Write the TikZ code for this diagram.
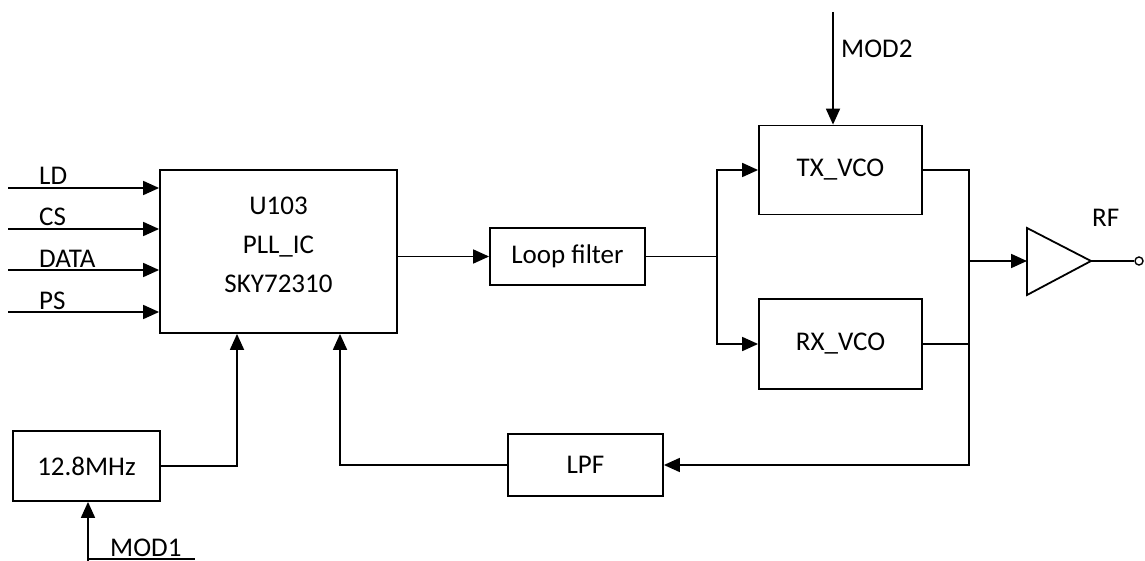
\documentclass[tikz,border=0pt]{standalone}
\usepackage{fontspec}
\setmainfont{Carlito}
\usetikzlibrary{arrows.meta,positioning}

\begin{document}
\begin{tikzpicture}[
    x=1pt, y=-1pt,
    block/.style={draw, line width=1.8pt, inner sep=0pt, align=center, font=\fontsize{27}{39}\selectfont},
    lbl/.style={inner sep=0pt, anchor=base west, font=\fontsize{27}{32}\selectfont},
    wire/.style={line width=1.8pt},
    arr/.style={wire, -{Triangle[length=16pt, width=14pt]}}
]
\useasboundingbox (0,0) rectangle (1145,561);

% blocks
\node[block, minimum width=237pt, minimum height=163pt] (pll) at (278.5,251.5) {};
\node[block, draw=none] (pll-txt) at (278.5,245) {U103\\PLL\_IC\\SKY72310};
\node[block, minimum width=147pt, minimum height=70pt] (osc) at (86.5,466) {12.8MHz};
\node[block, minimum width=155pt, minimum height=57pt] (loop) at (567.5,256.5) {Loop filter};
\node[block, minimum width=155pt, minimum height=62pt] (lpf) at (585.5,465) {LPF};
\node[block, minimum width=163pt, minimum height=89pt] (tx) at (840.5,170) {TX\_VCO};
\node[block, minimum width=163pt, minimum height=90pt] (rx) at (840.5,344) {RX\_VCO};

% amplifier
\coordinate (amp-in) at (1027,261);
\coordinate (amp-out) at (1091,261);
\draw[wire, line join=miter] (1027,228) -- (amp-out) -- (1027,295) -- cycle;
\node[draw, circle, line width=1.4pt, fill=white, inner sep=0pt, minimum size=8pt] (rfpin) at (1139,261) {};
\node[lbl] (rf-txt) at (1092,227) {RF};
\draw[wire] (amp-out) -- (rfpin);

% control inputs
\foreach \sig/\yy in {LD/188, CS/229, DATA/270, PS/312} {
    \coordinate (in-\sig) at (8,\yy);
    \draw[arr] (in-\sig) -- (pll.west |- in-\sig);
    \node[lbl] (t-\sig) at (39,\yy-3) {\sig};
}

% reference
\coordinate (mod1) at (88,559);
\draw[arr] (88,575) -- (osc.south -| mod1);
\draw[wire] (mod1) -- ++(107,0);
\node[lbl] (t-mod1) at (110,556) {MOD1};
\draw[arr] (osc.east) -| ([xshift=-41.5pt]pll.south);

% loop
\draw[arr] (pll.east |- loop.west) -- (loop.west);
\coordinate (sp) at (717,256.5);
\draw[wire] (loop.east) -- (sp);
\draw[arr] (sp) |- (tx.west);
\draw[arr] (sp) |- (rx.west);

\coordinate (mod2) at (833,12);
\draw[arr] (mod2) -- (mod2 |- tx.north);
\node[lbl] (t-mod2) at (841,58) {MOD2};

\coordinate (mg) at (969,261);
\draw[wire] (rx.east) -- (rx.east -| mg);
\draw[arr] (tx.east) -| (mg |- lpf.east) -- (lpf.east);
\draw[arr] (mg) -- (amp-in);
\draw[arr] (lpf.west) -| ([xshift=61.5pt]pll.south);
\end{tikzpicture}
\end{document}
